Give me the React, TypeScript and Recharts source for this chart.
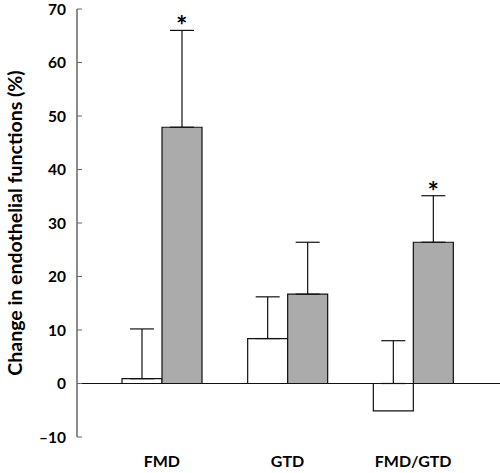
import { BarChart, Bar, XAxis, YAxis, ErrorBar, ReferenceLine, ReferenceDot } from "recharts";

const categories = ["FMD", "GTD", "FMD/GTD"];
const whiteMeans = [0.9, 8.4, -5.1];
const whiteSD = [9.3, 7.8, 13.1];
const grayMeans = [47.9, 16.7, 26.4];
const graySD = [18.1, 9.7, 8.7];
const marks = ["*", "", "*"];
const yTicks = [-10, 0, 10, 20, 30, 40, 50, 60, 70];

// error bars only go up; a negative bar's whisker starts at the zero line
const data = categories.map((name, i) => ({
  name,
  white: whiteMeans[i],
  whiteErr: [whiteMeans[i] < 0 ? whiteMeans[i] : 0, whiteSD[i]],
  gray: grayMeans[i],
  grayErr: [grayMeans[i] < 0 ? grayMeans[i] : 0, graySD[i]],
}));

const FONT = "Lato, 'DejaVu Sans', sans-serif";

function Star(props: any) {
  const { cx, cy, text } = props;
  return (
    <text x={cx + 20} y={cy + 5} textAnchor="middle" fontFamily={FONT} fontWeight={700} fontSize={27} fill="#000">
      {text}
    </text>
  );
}

function YLabel(props: any) {
  const { viewBox } = props;
  const cy = viewBox.y + viewBox.height / 2;
  return (
    <text
      transform={`translate(14, ${cy}) rotate(-90)`}
      textAnchor="middle"
      dominantBaseline="central"
      fontFamily={FONT}
      fontWeight={700}
      fontSize={19.5}
      fill="#000"
    >
      Change in endothelial functions (%)
    </text>
  );
}

export default function App() {
  return (
    <div style={{ position: "absolute", left: 0, top: 0, background: "#fff" }}>
      <BarChart
        width={500}
        height={473}
        data={data}
        margin={{ top: 9, right: 0, bottom: 0, left: 0 }}
        barSize={40}
        barGap={0}
      >
        <XAxis
          dataKey="name"
          axisLine={false}
          tickLine={false}
          height={36}
          padding={{ left: 22, right: 24 }}
          tickSize={0}
          tickMargin={19}
          tick={{ fontFamily: FONT, fontWeight: 700, fontSize: 16, fill: "#000" }}
        />
        <YAxis
          width={77}
          domain={[-10, 70]}
          ticks={yTicks}
          interval={0}
          allowDataOverflow
          axisLine={{ stroke: "#666", strokeWidth: 1.5 }}
          tickLine={{ stroke: "#666", strokeWidth: 1 }}
          tickSize={-5}
          tickMargin={16}
          tick={{ fontFamily: FONT, fontWeight: 700, fontSize: 15.5, fill: "#000" }}
          tickFormatter={(v: number) => (v < 0 ? `\u2013${Math.abs(v)}` : `${v}`)}
          label={<YLabel />}
        />
        <Bar dataKey="white" fill="#fff" stroke="#111" strokeWidth={1.2} isAnimationActive={false}>
          <ErrorBar dataKey="whiteErr" width={12} stroke="#111" strokeWidth={1.2} direction="y" />
        </Bar>
        <Bar dataKey="gray" fill="#ababab" stroke="#111" strokeWidth={1.2} isAnimationActive={false}>
          <ErrorBar dataKey="grayErr" width={12} stroke="#111" strokeWidth={1.2} direction="y" />
        </Bar>
        <ReferenceLine y={0} stroke="#111" strokeWidth={1.2} />
        {categories.map((c, i) =>
          marks[i] ? (
            <ReferenceDot
              key={c}
              x={c}
              y={grayMeans[i] + graySD[i]}
              r={0}
              shape={(p: any) => <Star {...p} text={marks[i]} />}
            />
          ) : null
        )}
      </BarChart>
    </div>
  );
}
